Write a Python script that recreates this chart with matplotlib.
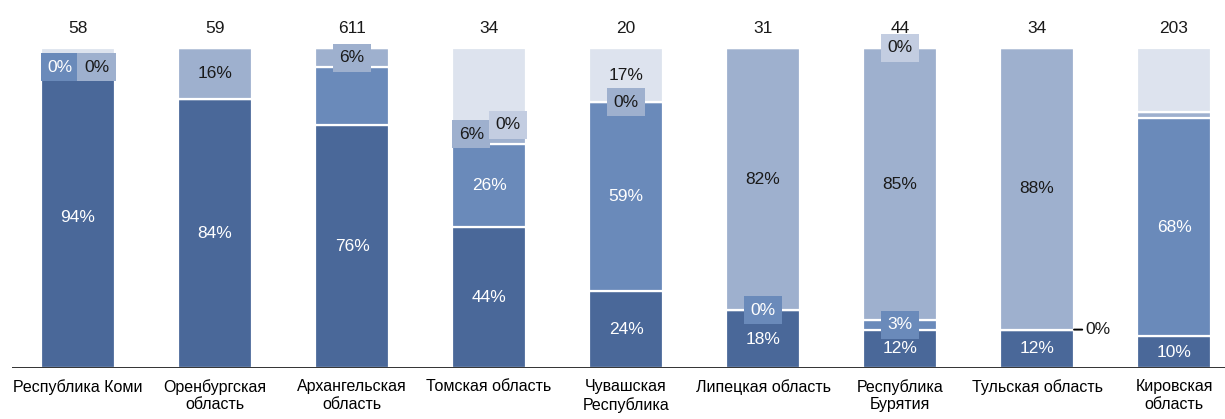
import matplotlib
matplotlib.use("Agg")
import matplotlib.pyplot as plt
import numpy as np

regions = ["Республика Коми", "Оренбургская\nобласть", "Архангельская\nобласть",
           "Томская область", "Чувашская\nРеспублика", "Липецкая область",
           "Республика\nБурятия", "Тульская область", "Кировская\nобласть"]
totals = [58, 59, 611, 34, 20, 31, 44, 34, 203]
s1 = [94, 84, 76, 44, 24, 18, 12, 12, 10]
s2 = [0, 0, 18, 26, 59, 0, 3, 0, 68]
s3 = [0, 16, 6, 6, 0, 82, 85, 88, 2]
s4 = [0, 0, 0, 0, 17, 0, 0, 0, 0]
s5 = [6, 0, 0, 24, 0, 0, 0, 0, 20]   # unlabelled remainder

show1 = [True] * 9
show2 = [True, False, False, True, True, True, True, True, True]
show3 = [True, True, True, True, True, True, True, True, False]
show4 = [False, False, False, True, True, False, True, False, False]

series = [s1, s2, s3, s4, s5]
shows = [show1, show2, show3, show4, [False] * 9]
colors = ["#4a6899", "#6a8aba", "#9eb0ce", "#dde3ee", "#dde3ee"]
box_colors = ["#4a6899", "#6a8aba", "#9eb0ce", "#c3cde1", "#dde3ee"]
text_colors = ["white", "white", "#1a1a1a", "#1a1a1a", "#1a1a1a"]

# label layout tweaks: (bar, series) -> dx in bar units
dx_map = {(0, 1): -0.13, (0, 2): 0.135, (3, 2): -0.13, (3, 3): 0.14}
outside = {(7, 1)}

plt.rcParams['font.family'] = ['Liberation Sans', 'DejaVu Sans']
W, H = 1225, 419
fig = plt.figure(figsize=(W / 100, H / 100), dpi=100)
ax = fig.add_axes([12 / W, 51 / H, (W - 12) / W, 320 / H])

FS = 12.5
x = np.arange(len(regions))
bw = 0.54
bottom = np.zeros(len(regions))
for k, s in enumerate(series):
    vals = np.array(s, dtype=float)
    ax.bar(x, vals, bw, bottom=bottom, color=colors[k], edgecolor="white",
           linewidth=1.6, zorder=2)
    for i in range(len(regions)):
        if not shows[k][i]:
            continue
        v = vals[i]
        yc = bottom[i] + v / 2
        lab = f"{int(round(v))}%"
        if (i, k) in outside:
            ax.annotate(lab, xy=(x[i] + bw / 2, yc), xytext=(x[i] + bw / 2 + 0.08, yc),
                        ha="left", va="center", fontsize=FS, color="#1a1a1a",
                        arrowprops=dict(arrowstyle="-", color="black", lw=1.4,
                                        shrinkA=0, shrinkB=0), zorder=5)
            continue
        dx = dx_map.get((i, k), 0.0)
        small = v < 8
        kw = {}
        if small:
            kw["bbox"] = dict(boxstyle="square,pad=0.38", fc=box_colors[k], ec="none")
        ax.text(x[i] + dx, yc, lab, ha="center", va="center", fontsize=FS,
                color=text_colors[k], zorder=6, clip_on=False, **kw)
    bottom += vals

for i, t in enumerate(totals):
    ax.text(x[i], 106.0, str(t), ha="center", va="center", fontsize=FS,
            color="#1a1a1a", clip_on=False)

ax.set_xlim(-0.482, 8.372)
ax.set_ylim(0, 100)
ax.axhline(0, color="#222222", lw=1.3, zorder=4)
for sp in ax.spines.values():
    sp.set_visible(False)
ax.set_yticks([])
ax.set_xticks(x)
ax.set_xticklabels(regions, fontsize=11.5, linespacing=1.2)
ax.tick_params(axis="x", length=0, pad=8)

fig.savefig("out.png", dpi=100)
